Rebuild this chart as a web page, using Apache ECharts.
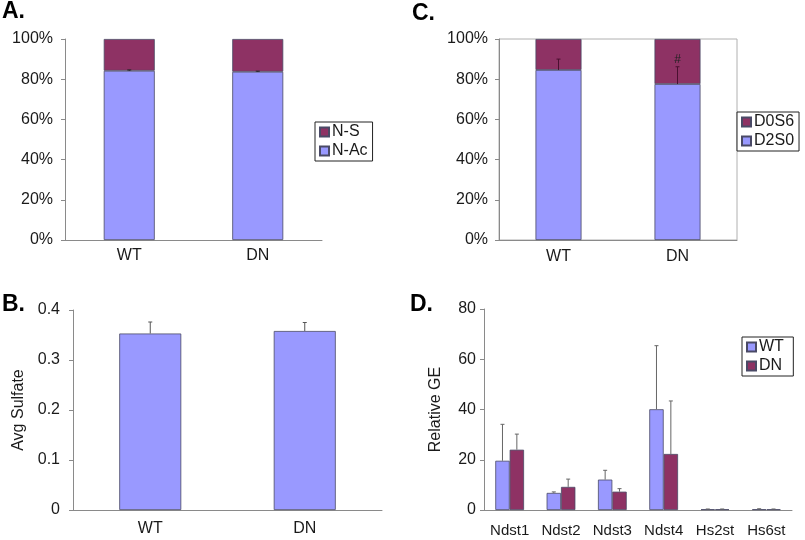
<!DOCTYPE html>
<html>
<head>
<meta charset="utf-8">
<script src="https://cdn.jsdelivr.net/npm/echarts@6/dist/echarts.min.js"></script>
<style>
html,body{margin:0;padding:0;background:#fff;}
#c{width:805px;height:540px;}
</style>
</head>
<body>
<div id="c"></div>
<script>
// ---- data ----
const groups = ['WT', 'DN'];
const nAc = [84.2, 83.7];
const nS = [15.8, 16.3];
const nAcErr = [0.4, 0.3];

const avgSulfate = [0.353, 0.358];
const avgSulfateErr = [0.023, 0.017];

const d2s0 = [84.6, 77.6];
const d0s6 = [15.4, 22.4];
const d2s0Err = [5.4, 8.6];
const d2s0Marks = ['', '#'];

const genes = ['Ndst1', 'Ndst2', 'Ndst3', 'Ndst4', 'Hs2st', 'Hs6st'];
const geWT = [19.6, 6.8, 12.1, 40.1, 0.3, 0.3];
const geWTErr = [14.5, 0.4, 3.7, 25.3, 0.1, 0.2];
const geDN = [24.0, 9.2, 7.3, 22.3, 0.3, 0.3];
const geDNErr = [6.2, 3.1, 1.2, 21.1, 0.1, 0.1];

// ---- style ----
const LIGHT = '#9999FF';
const DARK = '#8E3264';
const BORDER = '#4a4a66';
const AXIS = '#8a8a8a';
const TXT = '#1a1a1a';
const FONT = 'Liberation Sans, Arial, sans-serif';

function errSeries(name, xi, yi, vals, errs, color, offsetFrac, marks) {
  return {
    type: 'custom',
    name: name,
    xAxisIndex: xi, yAxisIndex: yi,
    z: 10,
    silent: true,
    data: vals.map((v, i) => [i, v, errs[i]]),
    renderItem: function (params, api) {
      const idx = api.value(0), v = api.value(1), e = api.value(2);
      const band = api.size([1, 0])[0];
      const p0 = api.coord([idx, v]);
      const p1 = api.coord([idx, v + e]);
      const x = p0[0] + offsetFrac * band;
      const children = [
        {type: 'line', shape: {x1: x, y1: p0[1], x2: x, y2: p1[1]}, style: {stroke: color, lineWidth: 1}},
        {type: 'line', shape: {x1: x - 2, y1: p1[1], x2: x + 2, y2: p1[1]}, style: {stroke: color, lineWidth: 1}}
      ];
      if (marks && marks[params.dataIndex]) {
        children.push({type: 'text', style: {text: marks[params.dataIndex], x: x, y: p1[1] - 1,
          textAlign: 'center', textVerticalAlign: 'bottom', fontSize: 12, fontFamily: FONT, fill: '#222'}});
      }
      return {type: 'group', children: children};
    }
  };
}

function xAx(grid, data, margin, fs) {
  return {
    gridIndex: grid, type: 'category', data: data,
    axisLine: {lineStyle: {color: AXIS, width: 1}},
    axisTick: {length: 5, lineStyle: {color: AXIS}},
    axisLabel: {color: TXT, fontSize: fs, fontFamily: FONT, margin: margin},
    splitLine: {show: false}
  };
}
function yAx(grid, min, max, interval, fmt, margin, name, nameGap) {
  return {
    gridIndex: grid, type: 'value', min: min, max: max, interval: interval,
    name: name || '', nameLocation: 'middle', nameRotate: 90, nameGap: nameGap || 0,
    nameTextStyle: {color: TXT, fontSize: 16, fontFamily: FONT},
    axisLine: {show: true, lineStyle: {color: AXIS, width: 1}},
    axisTick: {show: true, length: 4, lineStyle: {color: AXIS}},
    axisLabel: {color: TXT, fontSize: 16, fontFamily: FONT, margin: margin, formatter: fmt},
    splitLine: {show: false}
  };
}
const barStyle = (c) => ({color: c, borderColor: BORDER, borderWidth: 0.8});
const legendBase = {
  orient: 'vertical', itemWidth: 9, itemHeight: 9, itemGap: 3,
  padding: [2, 5, 2, 4], borderColor: '#222', borderWidth: 1, backgroundColor: '#fff',
  textStyle: {color: TXT, fontSize: 16, fontFamily: FONT, padding: [0, 0, 0, -2]},
  icon: 'rect', selectedMode: false
};
const titleStyle = {fontSize: 23, fontWeight: 'bold', color: '#000', fontFamily: FONT};

const chart = echarts.init(document.getElementById('c'), null, {renderer: 'canvas'});
chart.setOption({
  animation: false,
  backgroundColor: '#fff',
  textStyle: {fontFamily: FONT},
  title: [
    {text: 'A.', left: 2, top: 0, padding: 0, textStyle: titleStyle},
    {text: 'C.', left: 412, top: 2, padding: 0, textStyle: titleStyle},
    {text: 'B.', left: 2, top: 293, padding: 0, textStyle: titleStyle},
    {text: 'D.', left: 410, top: 293, padding: 0, textStyle: titleStyle}
  ],
  legend: [
    Object.assign({}, legendBase, {left: 315, top: 122, data: ['N-S', 'N-Ac']}),
    Object.assign({}, legendBase, {left: 737, top: 112, data: ['D0S6', 'D2S0']}),
    Object.assign({}, legendBase, {left: 742, top: 337, data: ['WT ', 'DN ']})
  ],
  grid: [
    {left: 65, top: 39, width: 257, height: 201},
    {left: 73, top: 310, width: 309, height: 200},
    {left: 499, top: 39, width: 238, height: 201, show: true, borderColor: '#b0b0b0', borderWidth: 1, backgroundColor: 'transparent'},
    {left: 484, top: 309, width: 308, height: 201}
  ],
  xAxis: [
    xAx(0, groups, 8, 16),
    xAx(1, groups, 11, 16),
    xAx(2, groups, 9, 16),
    xAx(3, genes, 13, 15)
  ],
  yAxis: [
    yAx(0, 0, 100, 20, '{value}%', 12),
    yAx(1, 0, 0.4, 0.1, null, 13, 'Avg Sulfate', 46),
    yAx(2, 0, 100, 20, '{value}%', 11),
    yAx(3, 0, 80, 20, null, 8, 'Relative GE', 40)
  ],
  series: [
    // A
    {type: 'bar', name: 'N-Ac', xAxisIndex: 0, yAxisIndex: 0, stack: 'a', barWidth: 51, data: nAc, itemStyle: barStyle(LIGHT)},
    {type: 'bar', name: 'N-S', xAxisIndex: 0, yAxisIndex: 0, stack: 'a', barWidth: 51, data: nS, itemStyle: barStyle(DARK)},
    errSeries('errA', 0, 0, nAc, nAcErr, '#222', 0),
    // B
    {type: 'bar', name: 'Avg', xAxisIndex: 1, yAxisIndex: 1, barWidth: 62, data: avgSulfate, itemStyle: barStyle(LIGHT)},
    errSeries('errB', 1, 1, avgSulfate, avgSulfateErr, '#555', 0),
    // C
    {type: 'bar', name: 'D2S0', xAxisIndex: 2, yAxisIndex: 2, stack: 'c', barWidth: 46, data: d2s0, itemStyle: barStyle(LIGHT)},
    {type: 'bar', name: 'D0S6', xAxisIndex: 2, yAxisIndex: 2, stack: 'c', barWidth: 46, data: d0s6, itemStyle: barStyle(DARK)},
    errSeries('errC', 2, 2, d2s0, d2s0Err, '#4a1030', 0, d2s0Marks),
    // D
    {type: 'bar', name: 'WT ', xAxisIndex: 3, yAxisIndex: 3, barWidth: '28%', barGap: '0%', data: geWT, itemStyle: barStyle(LIGHT)},
    {type: 'bar', name: 'DN ', xAxisIndex: 3, yAxisIndex: 3, barWidth: '28%', barGap: '0%', data: geDN, itemStyle: barStyle(DARK)},
    errSeries('errDwt', 3, 3, geWT, geWTErr, '#666', -0.14),
    errSeries('errDdn', 3, 3, geDN, geDNErr, '#666', 0.14)
  ]
});
</script>
</body>
</html>
